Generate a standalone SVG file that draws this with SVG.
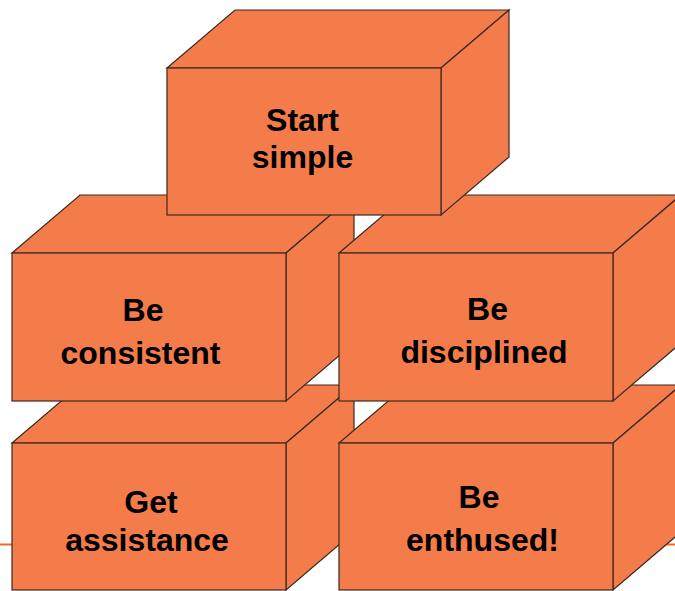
<svg xmlns="http://www.w3.org/2000/svg" width="675" height="591" viewBox="0 0 675 591">
<style>
.f{fill:#F47B4A;stroke:#3a2a22;stroke-width:1.2;stroke-linejoin:miter}
.t{font-family:"Liberation Sans",Arial,sans-serif;font-weight:bold;font-size:32px;fill:#000;text-anchor:middle}
</style>
<rect width="675" height="591" fill="#fff"/>
<g id="connectors">
<line x1="0" y1="544.5" x2="675" y2="544.5" stroke="#F26B1D" stroke-width="2"/>
</g>
<g id="assistance">
<polygon class="f" points="12,443 80,385 354,385 286,443"/>
<polygon class="f" points="286,443 354,385 354,532 286,590"/>
<rect class="f" x="12" y="443" width="274" height="147"/>
<text class="t" x="151" y="513">Get</text>
<text class="t" x="147" y="551">assistance</text>
</g>
<g id="enthused">
<polygon class="f" points="339,443 407,385 681,385 613,443"/>
<polygon class="f" points="613,443 681,385 681,532 613,590"/>
<rect class="f" x="339" y="443" width="274" height="147"/>
<text class="t" x="479" y="508">Be</text>
<text class="t" x="482.5" y="551">enthused!</text>
</g>
<g id="consistent">
<polygon class="f" points="12,253 80,195 354,195 286,253"/>
<polygon class="f" points="286,253 354,195 354,343 286,401"/>
<rect class="f" x="12" y="253" width="274" height="148"/>
<text class="t" x="143" y="321">Be</text>
<text class="t" x="140.5" y="364">consistent</text>
</g>
<g id="disciplined">
<polygon class="f" points="339,253 407,195 681,195 613,253"/>
<polygon class="f" points="613,253 681,195 681,343 613,401"/>
<rect class="f" x="339" y="253" width="274" height="148"/>
<text class="t" x="487.5" y="320">Be</text>
<text class="t" x="484" y="363">disciplined</text>
</g>
<g id="start">
<polygon class="f" points="167,68 235,10 509,10 441,68"/>
<polygon class="f" points="441,68 509,10 509,157 441,215"/>
<rect class="f" x="167" y="68" width="274" height="147"/>
<text class="t" x="302.5" y="131">Start</text>
<text class="t" x="302.5" y="168">simple</text>
</g>
</svg>
